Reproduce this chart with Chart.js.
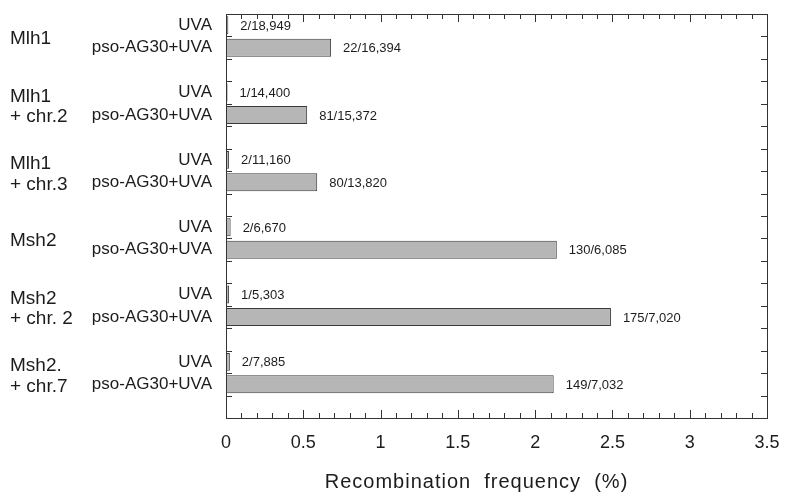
<!DOCTYPE html>
<html>
<head>
<meta charset="utf-8">
<script src="https://cdn.jsdelivr.net/npm/chart.js@4.4.1/dist/chart.umd.min.js"></script>
<style>
  html, body { margin: 0; padding: 0; background: #fff; }
  #wrap { width: 787px; height: 498px; position: relative; }
</style>
</head>
<body>
<div id="wrap"><canvas id="recomb-chart"></canvas></div>
<script>
// Strains (one group of rows each), lines of the left-hand label
const groupNames = [
    ['Mlh1'],
    ['Mlh1', '+ chr.2'],
    ['Mlh1', '+ chr.3'],
    ['Msh2'],
    ['Msh2', '+ chr. 2'],
    ['Msh2.', '+ chr.7']
];
const treatments = ['UVA', 'pso-AG30+UVA'];

// Recombination frequency (%)
const uvaValues = [0.015, 0.01, 0.02, 0.03, 0.02, 0.025];
const psoValues = [0.68, 0.525, 0.59, 2.14, 2.49, 2.12];

// Counts printed next to the bars
const uvaCounts = ['2/18,949', '1/14,400', '2/11,160', '2/6,670', '1/5,303', '2/7,885'];
const psoCounts = ['22/16,394', '81/15,372', '80/13,820', '130/6,085', '175/7,020', '149/7,032'];

const xTicks = [0, 0.5, 1, 1.5, 2, 2.5, 3, 3.5];
const xTickLabels = ['0', '0.5', '1', '1.5', '2', '2.5', '3', '3.5'];

// Build rows: UVA, pso, empty spacer for every group
const rowLabels = [];
const rowValues = [];
const rowCounts = [];
groupNames.forEach((g, i) => {
    rowLabels.push(treatments[0], treatments[1], '');
    rowValues.push(uvaValues[i], psoValues[i], null);
    rowCounts.push(uvaCounts[i], psoCounts[i], '');
});

const FONT = "'Liberation Sans', Arial, Helvetica, sans-serif";
const INK = '#1c1c1c';

// Frame, inward tick marks, bar labels, group names and axis title
const decorations = {
    id: 'decorations',
    beforeDatasetsDraw(chart) {
        const ctx = chart.ctx;
        const a = chart.chartArea;
        const xs = chart.scales.x;
        const ys = chart.scales.y;
        ctx.save();
        ctx.strokeStyle = '#333';
        ctx.lineWidth = 1;
        ctx.beginPath();
        // x ticks every 0.1, longer on every 0.5
        for (let k = 0; k <= 35; k++) {
            const px = Math.round(xs.getPixelForValue(k / 10)) + 0.5;
            const len = k % 5 === 0 ? 8 : 5;
            ctx.moveTo(px, a.bottom);
            ctx.lineTo(px, a.bottom - len);
            ctx.moveTo(px, a.top);
            ctx.lineTo(px, a.top + len);
        }
        // y ticks at the row boundaries
        for (let i = 1; i < rowLabels.length; i++) {
            const py = Math.round((ys.getPixelForValue(i - 1) + ys.getPixelForValue(i)) / 2) + 0.5;
            ctx.moveTo(a.left, py);
            ctx.lineTo(a.left + 6, py);
            ctx.moveTo(a.right, py);
            ctx.lineTo(a.right - 6, py);
        }
        ctx.stroke();
        ctx.restore();
    },
    afterDraw(chart) {
        const ctx = chart.ctx;
        const a = chart.chartArea;
        const xs = chart.scales.x;
        const ys = chart.scales.y;
        ctx.save();
        ctx.strokeStyle = '#333';
        ctx.lineWidth = 1;
        ctx.strokeRect(Math.round(a.left) + 0.5, Math.round(a.top) + 0.5,
            Math.round(a.right - a.left), Math.round(a.bottom - a.top));

        // counts beside the bars
        ctx.fillStyle = INK;
        ctx.font = '13px ' + FONT;
        ctx.textAlign = 'left';
        ctx.textBaseline = 'middle';
        rowValues.forEach((v, i) => {
            if (v === null) return;
            ctx.fillText(rowCounts[i], xs.getPixelForValue(v) + 12, ys.getPixelForValue(i) + 1);
        });

        // strain names on the far left
        ctx.font = '19px ' + FONT;
        groupNames.forEach((lines, g) => {
            const yUva = ys.getPixelForValue(g * 3);
            const yPso = ys.getPixelForValue(g * 3 + 1);
            if (lines.length === 1) {
                ctx.fillText(lines[0], 10, (yUva + yPso) / 2 + 2);
            } else {
                ctx.fillText(lines[0], 10, yUva + 4);
                ctx.fillText(lines[1], 10, yPso + 2);
            }
        });

        // axis title
        ctx.font = '20px ' + FONT;
        ctx.textAlign = 'center';
        ctx.letterSpacing = '1px';
        ctx.fillText('Recombination  frequency  (%)', (a.left + a.right) / 2 - 20, 482);
        ctx.restore();
    }
};

new Chart(document.getElementById('recomb-chart'), {
    type: 'bar',
    data: {
        labels: rowLabels,
        datasets: [{
            data: rowValues,
            backgroundColor: '#b6b6b6',
            borderColor: '#3a3a3a',
            borderWidth: 1,
            borderSkipped: false,
            barPercentage: 0.8,
            categoryPercentage: 1
        }]
    },
    options: {
        indexAxis: 'y',
        responsive: true,
        maintainAspectRatio: false,
        animation: false,
        layout: { padding: { top: 14, right: 20, bottom: 0, left: 0 } },
        plugins: {
            legend: { display: false },
            tooltip: { enabled: false }
        },
        scales: {
            x: {
                min: 0,
                max: 3.5,
                afterFit: scale => {
                    scale.height = 80;
                    scale.paddingLeft = 0;
                    scale.paddingRight = 0;
                },
                afterBuildTicks: scale => { scale.ticks = xTicks.map(v => ({ value: v })); },
                grid: { display: false, drawTicks: false },
                border: { display: false },
                ticks: {
                    color: INK,
                    padding: 14,
                    font: { family: FONT, size: 18 },
                    callback: (value, index) => xTickLabels[index]
                }
            },
            y: {
                afterFit: scale => {
                    scale.width = 226;
                    scale.paddingTop = 0;
                    scale.paddingBottom = 0;
                },
                grid: { display: false, drawTicks: false },
                border: { display: false },
                ticks: {
                    color: INK,
                    padding: 14,
                    autoSkip: false,
                    font: { family: FONT, size: 17 }
                }
            }
        }
    },
    plugins: [decorations]
});
</script>
</body>
</html>
